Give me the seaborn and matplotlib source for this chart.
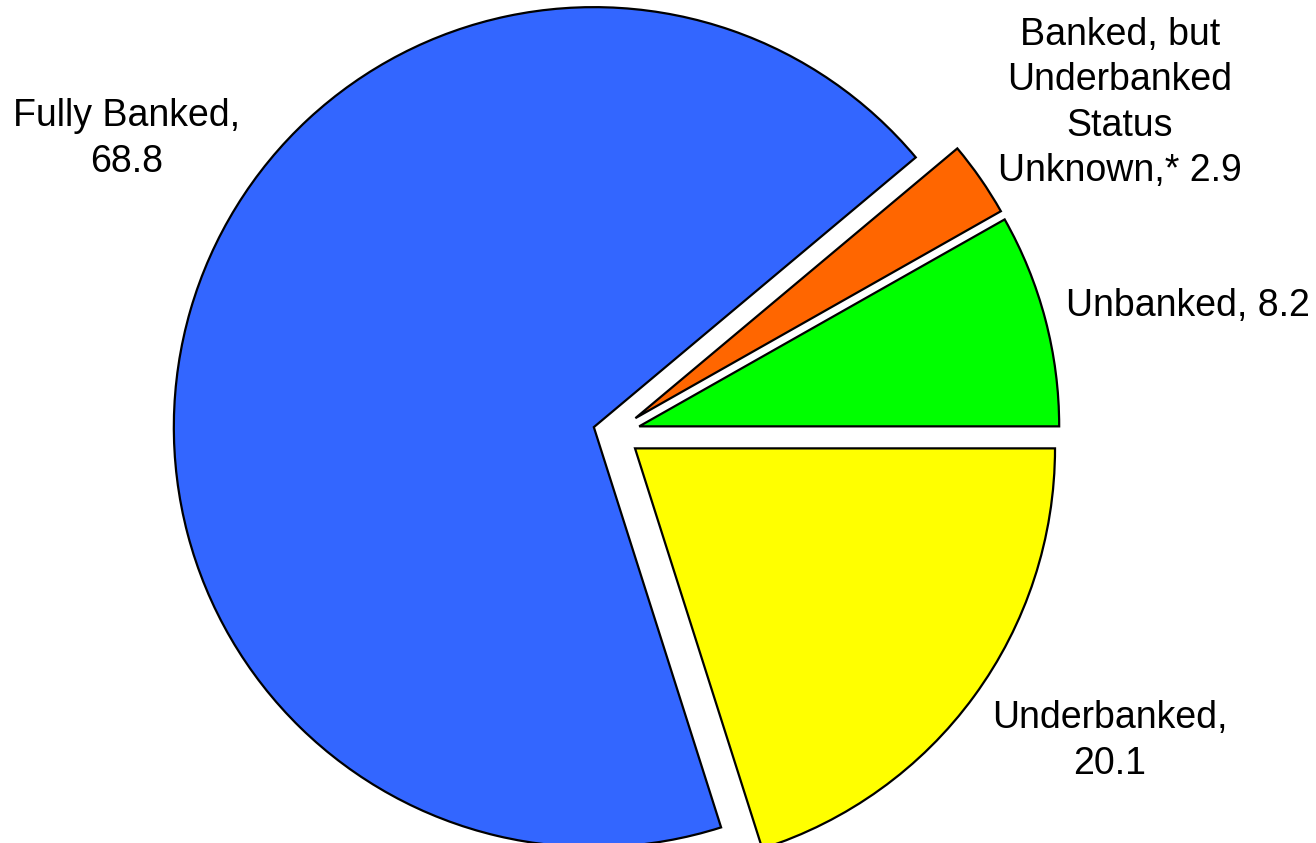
import matplotlib
matplotlib.use("Agg")
import matplotlib.pyplot as plt
import seaborn as sns

categories = ["Unbanked", "Banked, but\nUnderbanked\nStatus\nUnknown,*", "Fully Banked,", "Underbanked,"]
values = [8.2, 2.9, 68.8, 20.1]
colors = ["#00FF00", "#FF6600", "#3366FF", "#FFFF00"]
label_texts = ["Unbanked, 8.2", "Banked, but\nUnderbanked\nStatus\nUnknown,* 2.9",
               "Fully Banked,\n68.8", "Underbanked,\n20.1"]

sns.set_theme(style="white")
plt.rcParams['font.family'] = ['Liberation Sans', 'DejaVu Sans']

W, H = 1316, 843
fig = plt.figure(figsize=(W / 100, H / 100), dpi=100)
ax = fig.add_axes([0, 0, 1, 1])

R = 420.0
cx, cy = 614.0, 433.0
ax.pie(values, colors=colors, startangle=0, counterclock=True,
       explode=[0.062, 0.062, 0.05, 0.062],
       wedgeprops=dict(edgecolor="black", linewidth=1.6))
ax.set_xlim(-cx / R, (W - cx) / R)
ax.set_ylim(-(H - cy) / R, cy / R)
ax.set_aspect("equal")
ax.axis("off")

def px(x, y):
    return (x - cx) / R, (cy - y) / R

label_pos = [(1188, 306), (1120, 103), (127, 139), (1110, 741)]
for t, (x, y) in zip(label_texts, label_pos):
    X, Y = px(x, y)
    ax.text(X, Y, t, ha="center", va="center", fontsize=27,
            linespacing=1.33, color="black")

fig.savefig("out.png", dpi=100)
